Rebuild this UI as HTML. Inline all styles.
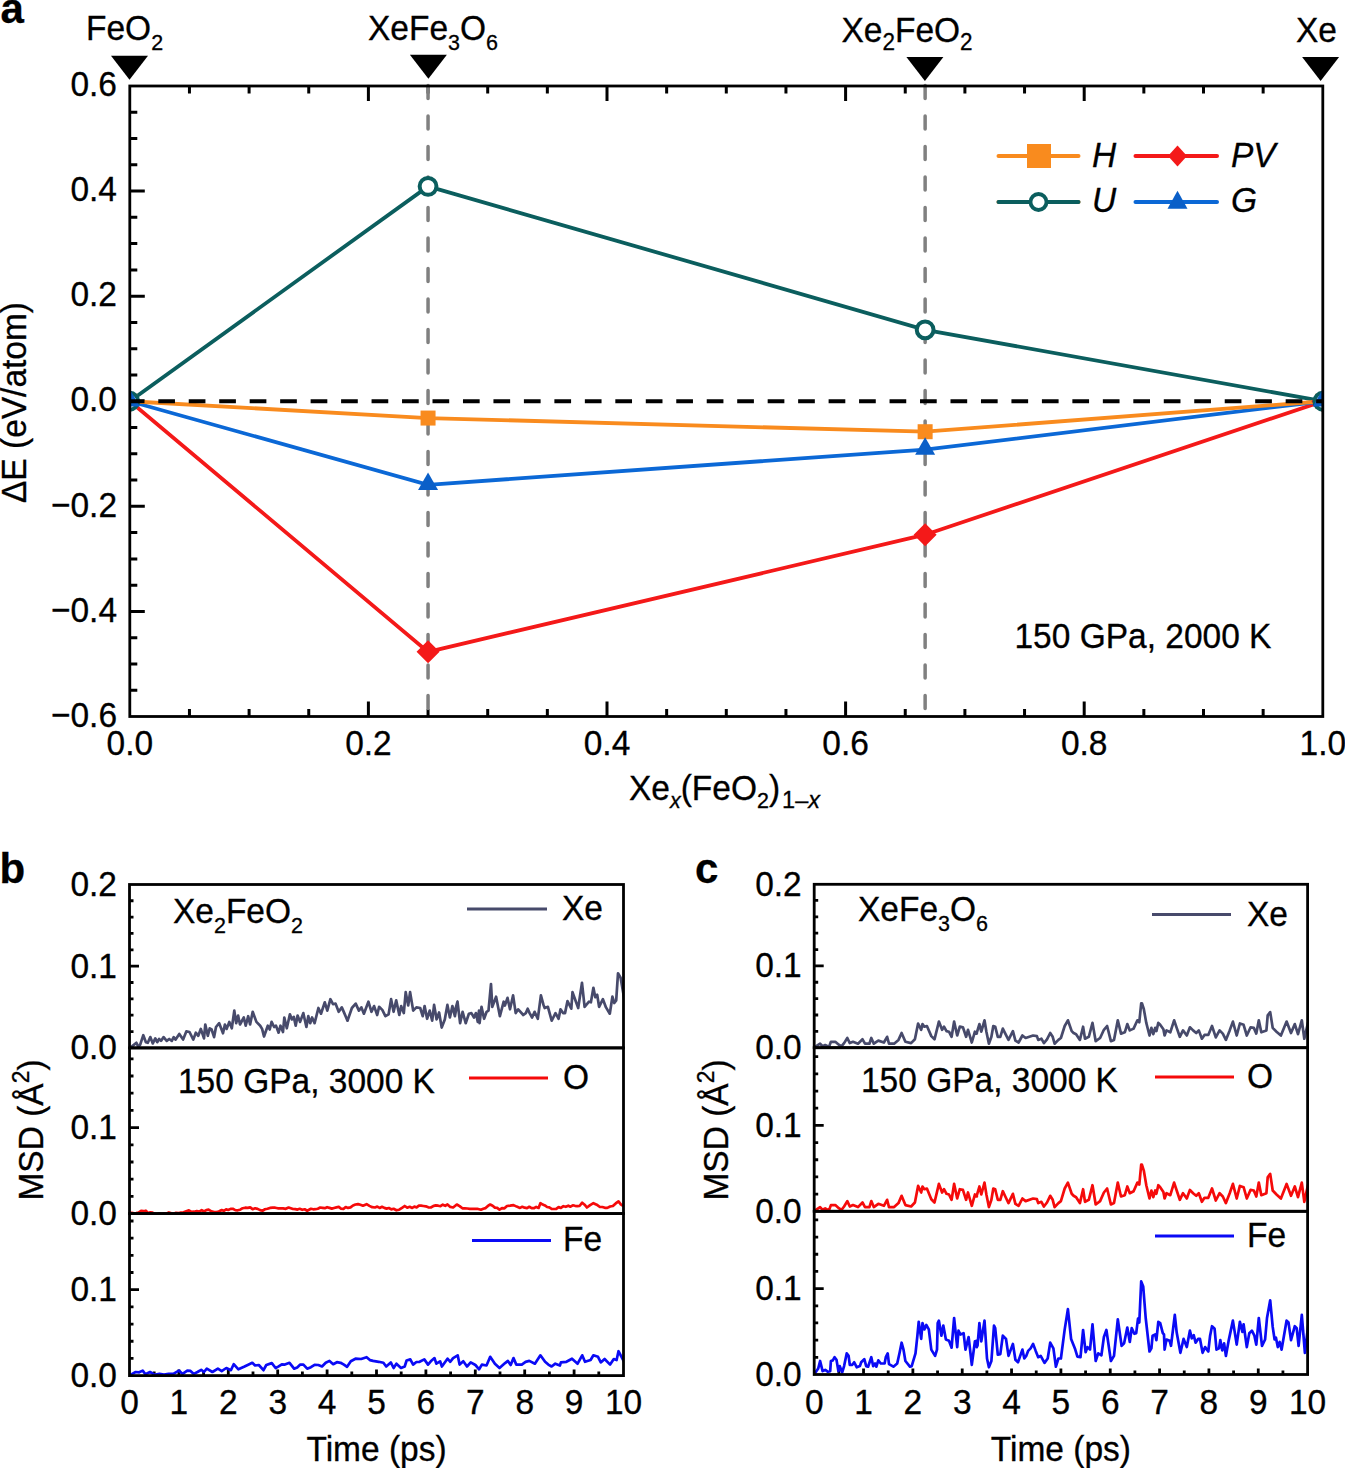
<!DOCTYPE html><html><head><meta charset="utf-8"><style>html,body{margin:0;padding:0;background:#fff;}svg{display:block}text{font-family:"Liberation Sans", sans-serif;fill:#000;stroke:#000;stroke-width:0.3px}</style></head><body>
<svg width="1345" height="1468" viewBox="0 0 1345 1468">
<rect width="1345" height="1468" fill="#fff"/>
<text transform="translate(0.50,23.00) scale(1.0,1.0)" font-size="42" font-weight="bold">a</text>
<path d="M129.8,690.23h7.5 M129.8,663.96h7.5 M129.8,637.69h7.5 M129.8,611.42h15 M129.8,585.15h7.5 M129.8,558.88h7.5 M129.8,532.60h7.5 M129.8,506.33h15 M129.8,480.06h7.5 M129.8,453.79h7.5 M129.8,427.52h7.5 M129.8,401.25h15 M129.8,374.98h7.5 M129.8,348.71h7.5 M129.8,322.44h7.5 M129.8,296.17h15 M129.8,269.90h7.5 M129.8,243.62h7.5 M129.8,217.35h7.5 M129.8,191.08h15 M129.8,164.81h7.5 M129.8,138.54h7.5 M129.8,112.27h7.5 M189.45,716.5v-7.5 M189.45,86.0v7.5 M249.10,716.5v-7.5 M249.10,86.0v7.5 M308.75,716.5v-7.5 M308.75,86.0v7.5 M368.40,716.5v-15 M368.40,86.0v15 M428.05,716.5v-7.5 M428.05,86.0v7.5 M487.70,716.5v-7.5 M487.70,86.0v7.5 M547.35,716.5v-7.5 M547.35,86.0v7.5 M607.00,716.5v-15 M607.00,86.0v15 M666.65,716.5v-7.5 M666.65,86.0v7.5 M726.30,716.5v-7.5 M726.30,86.0v7.5 M785.95,716.5v-7.5 M785.95,86.0v7.5 M845.60,716.5v-15 M845.60,86.0v15 M905.25,716.5v-7.5 M905.25,86.0v7.5 M964.90,716.5v-7.5 M964.90,86.0v7.5 M1024.55,716.5v-7.5 M1024.55,86.0v7.5 M1084.20,716.5v-15 M1084.20,86.0v15 M1143.85,716.5v-7.5 M1143.85,86.0v7.5 M1203.50,716.5v-7.5 M1203.50,86.0v7.5 M1263.15,716.5v-7.5 M1263.15,86.0v7.5" stroke="#000" stroke-width="3" fill="none"/>
<clipPath id="ca"><rect x="129.8" y="86.0" width="1193.0" height="630.5"/></clipPath>
<line x1="428.05" y1="85.6" x2="428.05" y2="709" stroke="#808080" stroke-width="3.5" stroke-dasharray="13 17.5" stroke-linecap="round"/>
<line x1="925.13" y1="85.6" x2="925.13" y2="709" stroke="#808080" stroke-width="3.5" stroke-dasharray="13 17.5" stroke-linecap="round"/>
<g clip-path="url(#ca)">
<polyline points="129.80,401.25 428.05,186.35 925.13,329.79 1322.80,401.25" fill="none" stroke="#0b5e5e" stroke-width="3.8"/>
<polyline points="129.80,401.25 428.05,651.87 925.13,534.71 1322.80,401.25" fill="none" stroke="#f41919" stroke-width="3.8"/>
<polyline points="129.80,401.25 428.05,484.79 925.13,449.59 1322.80,401.25" fill="none" stroke="#0b68d6" stroke-width="3.8"/>
<polyline points="129.80,401.25 428.05,418.06 925.13,431.72 1322.80,401.25" fill="none" stroke="#f98b1e" stroke-width="3.8"/>
<path d="M129.80,389.75L141.30,401.25L129.80,412.75L118.30,401.25Z" fill="#f41919"/>
<path d="M428.05,640.37L439.55,651.87L428.05,663.37L416.55,651.87Z" fill="#f41919"/>
<path d="M925.13,523.21L936.63,534.71L925.13,546.21L913.63,534.71Z" fill="#f41919"/>
<path d="M1322.80,389.75L1334.30,401.25L1322.80,412.75L1311.30,401.25Z" fill="#f41919"/>
<rect x="122.30" y="393.75" width="15" height="15" fill="#f98b1e"/>
<rect x="420.55" y="410.56" width="15" height="15" fill="#f98b1e"/>
<rect x="917.63" y="424.22" width="15" height="15" fill="#f98b1e"/>
<rect x="1315.30" y="393.75" width="15" height="15" fill="#f98b1e"/>
<circle cx="129.80" cy="401.25" r="8.4" fill="#fff" stroke="#0b5e5e" stroke-width="4"/>
<circle cx="428.05" cy="186.35" r="8.4" fill="#fff" stroke="#0b5e5e" stroke-width="4"/>
<circle cx="925.13" cy="329.79" r="8.4" fill="#fff" stroke="#0b5e5e" stroke-width="4"/>
<circle cx="1322.80" cy="401.25" r="8.4" fill="#fff" stroke="#0b5e5e" stroke-width="4"/>
<path d="M129.80,389.00L139.80,406.50L119.80,406.50Z" fill="#0a5fc8"/>
<path d="M428.05,472.54L438.05,490.04L418.05,490.04Z" fill="#0a5fc8"/>
<path d="M925.13,437.34L935.13,454.84L915.13,454.84Z" fill="#0a5fc8"/>
<path d="M1322.80,389.00L1332.80,406.50L1312.80,406.50Z" fill="#0a5fc8"/>
<line x1="127.8" y1="401.25" x2="1330" y2="401.25" stroke="#000" stroke-width="4" stroke-dasharray="16.7 13.77" />
</g>
<rect x="129.8" y="86.0" width="1193.0" height="630.5" fill="none" stroke="#000" stroke-width="2.8"/>
<path d="M111.00,55.7L148.00,55.7L129.50,79.7Z" fill="#000"/>
<path d="M409.90,54.8L446.90,54.8L428.40,78.8Z" fill="#000"/>
<path d="M906.40,57.0L943.40,57.0L924.90,81.0Z" fill="#000"/>
<path d="M1302.10,57.1L1339.10,57.1L1320.60,81.1Z" fill="#000"/>
<text transform="translate(86.00,39.50) scale(1.0,1.055)" font-size="33.5" >FeO<tspan font-size="21.5" dy="10" >2</tspan></text>
<text transform="translate(368.00,39.50) scale(1.0,1.055)" font-size="33.5" >XeFe<tspan font-size="21.5" dy="10" >3</tspan><tspan dy="-10">O</tspan><tspan font-size="21.5" dy="10" >6</tspan></text>
<text transform="translate(841.50,42.00) scale(1.0,1.055)" font-size="33.5" >Xe<tspan font-size="22.5" dy="8" >2</tspan><tspan dy="-8">FeO</tspan><tspan font-size="22.5" dy="8" >2</tspan></text>
<text transform="translate(1296.00,42.00) scale(1.0,1.055)" font-size="33.5" >Xe</text>
<text transform="translate(117.00,96.20) scale(1.0,1.055)" font-size="33.5" text-anchor="end" >0.6</text>
<text transform="translate(117.00,201.28) scale(1.0,1.055)" font-size="33.5" text-anchor="end" >0.4</text>
<text transform="translate(117.00,306.37) scale(1.0,1.055)" font-size="33.5" text-anchor="end" >0.2</text>
<text transform="translate(117.00,411.45) scale(1.0,1.055)" font-size="33.5" text-anchor="end" >0.0</text>
<text transform="translate(117.00,516.53) scale(1.0,1.055)" font-size="33.5" text-anchor="end" >−0.2</text>
<text transform="translate(117.00,621.62) scale(1.0,1.055)" font-size="33.5" text-anchor="end" >−0.4</text>
<text transform="translate(117.00,726.70) scale(1.0,1.055)" font-size="33.5" text-anchor="end" >−0.6</text>
<text transform="translate(129.80,754.50) scale(1.0,1.055)" font-size="33.5" text-anchor="middle" >0.0</text>
<text transform="translate(368.40,754.50) scale(1.0,1.055)" font-size="33.5" text-anchor="middle" >0.2</text>
<text transform="translate(607.00,754.50) scale(1.0,1.055)" font-size="33.5" text-anchor="middle" >0.4</text>
<text transform="translate(845.60,754.50) scale(1.0,1.055)" font-size="33.5" text-anchor="middle" >0.6</text>
<text transform="translate(1084.20,754.50) scale(1.0,1.055)" font-size="33.5" text-anchor="middle" >0.8</text>
<text transform="translate(1322.80,754.50) scale(1.0,1.055)" font-size="33.5" text-anchor="middle" >1.0</text>
<text transform="translate(629.00,800.00) scale(1.0,1.055)" font-size="33.5" >Xe<tspan font-size="21.5" dy="8" font-style="italic">x</tspan><tspan dy="-8">(FeO</tspan><tspan font-size="21.5" dy="8" >2</tspan><tspan dy="-8">)</tspan><tspan font-size="23.5" dy="8" dx="2">1–<tspan font-style="italic">x</tspan></tspan></text>
<text transform="translate(26.00,402.50) rotate(-90) scale(1.0,1.055)" font-size="33.5" text-anchor="middle" >ΔE (eV/atom)</text>
<text transform="translate(1014.50,648.00) scale(1.0,1.055)" font-size="33.5" >150 GPa, 2000 K</text>
<path d="M998.5,156H1078.5M998.5,202H1078.5" stroke="#f98b1e" stroke-width="4" stroke-linecap="round"/>
<path d="M998.5,202H1078.5" stroke="#0b5e5e" stroke-width="4" stroke-linecap="round"/>
<path d="M1135.5,156H1217" stroke="#f41919" stroke-width="4" stroke-linecap="round"/>
<path d="M1135.5,202H1217" stroke="#0b68d6" stroke-width="4" stroke-linecap="round"/>
<rect x="1027.00" y="144.00" width="24" height="24" fill="#f98b1e"/>
<circle cx="1038.50" cy="202.00" r="8" fill="#fff" stroke="#0b5e5e" stroke-width="3.8"/>
<path d="M1177.50,145.40L1187.00,156.00L1177.50,166.60L1168.00,156.00Z" fill="#f41919"/>
<path d="M1177.50,190.84L1187.50,208.84L1167.50,208.84Z" fill="#0a5fc8"/>
<text transform="translate(1092.00,167.00) scale(1.0,1.055)" font-size="33.5" font-style="italic">H</text>
<text transform="translate(1092.00,212.00) scale(1.0,1.055)" font-size="33.5" font-style="italic">U</text>
<text transform="translate(1231.00,167.00) scale(1.0,1.055)" font-size="33.5" font-style="italic">PV</text>
<text transform="translate(1231.00,212.00) scale(1.0,1.055)" font-size="33.5" font-style="italic">G</text>
<text transform="translate(-0.50,882.50) scale(1.0,1.0)" font-size="42" font-weight="bold">b</text>
<text transform="translate(117.00,1059.40) scale(1.0,1.055)" font-size="33.5" text-anchor="end" >0.0</text>
<text transform="translate(117.00,977.65) scale(1.0,1.055)" font-size="33.5" text-anchor="end" >0.1</text>
<text transform="translate(117.00,895.90) scale(1.0,1.055)" font-size="33.5" text-anchor="end" >0.2</text>
<text transform="translate(117.00,1225.10) scale(1.0,1.055)" font-size="33.5" text-anchor="end" >0.0</text>
<text transform="translate(117.00,1139.10) scale(1.0,1.055)" font-size="33.5" text-anchor="end" >0.1</text>
<text transform="translate(117.00,1387.10) scale(1.0,1.055)" font-size="33.5" text-anchor="end" >0.0</text>
<text transform="translate(117.00,1301.20) scale(1.0,1.055)" font-size="33.5" text-anchor="end" >0.1</text>
<path d="M129.5,1031.55h4 M129.5,1015.20h4 M129.5,998.85h4 M129.5,982.50h4 M129.5,966.15h9.5 M129.5,949.80h4 M129.5,933.45h4 M129.5,917.10h4 M129.5,900.75h4 M129.5,1196.40h4 M129.5,1179.20h4 M129.5,1162.00h4 M129.5,1144.80h4 M129.5,1127.60h9.5 M129.5,1110.40h4 M129.5,1093.20h4 M129.5,1076.00h4 M129.5,1058.80h4 M129.5,1358.42h4 M129.5,1341.24h4 M129.5,1324.06h4 M129.5,1306.88h4 M129.5,1289.70h9.5 M129.5,1272.52h4 M129.5,1255.34h4 M129.5,1238.16h4 M129.5,1220.98h4 M154.20,1375.6v-4 M178.90,1375.6v-6 M203.60,1375.6v-4 M228.30,1375.6v-6 M253.00,1375.6v-4 M277.70,1375.6v-6 M302.40,1375.6v-4 M327.10,1375.6v-6 M351.80,1375.6v-4 M376.50,1375.6v-6 M401.20,1375.6v-4 M425.90,1375.6v-6 M450.60,1375.6v-4 M475.30,1375.6v-6 M500.00,1375.6v-4 M524.70,1375.6v-6 M549.40,1375.6v-4 M574.10,1375.6v-6 M598.80,1375.6v-4" stroke="#000" stroke-width="2.8" fill="none"/>
<text transform="translate(129.50,1414.00) scale(1.0,1.055)" font-size="33.5" text-anchor="middle" >0</text>
<text transform="translate(178.90,1414.00) scale(1.0,1.055)" font-size="33.5" text-anchor="middle" >1</text>
<text transform="translate(228.30,1414.00) scale(1.0,1.055)" font-size="33.5" text-anchor="middle" >2</text>
<text transform="translate(277.70,1414.00) scale(1.0,1.055)" font-size="33.5" text-anchor="middle" >3</text>
<text transform="translate(327.10,1414.00) scale(1.0,1.055)" font-size="33.5" text-anchor="middle" >4</text>
<text transform="translate(376.50,1414.00) scale(1.0,1.055)" font-size="33.5" text-anchor="middle" >5</text>
<text transform="translate(425.90,1414.00) scale(1.0,1.055)" font-size="33.5" text-anchor="middle" >6</text>
<text transform="translate(475.30,1414.00) scale(1.0,1.055)" font-size="33.5" text-anchor="middle" >7</text>
<text transform="translate(524.70,1414.00) scale(1.0,1.055)" font-size="33.5" text-anchor="middle" >8</text>
<text transform="translate(574.10,1414.00) scale(1.0,1.055)" font-size="33.5" text-anchor="middle" >9</text>
<text transform="translate(623.50,1414.00) scale(1.0,1.055)" font-size="33.5" text-anchor="middle" >10</text>
<text transform="translate(376.50,1460.50) scale(1.0,1.055)" font-size="33.5" text-anchor="middle" >Time (ps)</text>
<text transform="translate(43.00,1130.00) rotate(-90) scale(1.0,1.055)" font-size="33.5" text-anchor="middle" >MSD (Å<tspan font-size="23" dy="-13" >2</tspan><tspan dy="13">)</tspan></text>
<clipPath id="cb0"><rect x="129.5" y="844.5" width="494.0" height="203.4000000000001"/></clipPath>
<polyline clip-path="url(#cb0)" points="129.4,1048.5 132.6,1045.9 136.4,1042.8 138.3,1046.6 140.2,1044.7 143.3,1035.2 145.9,1042.2 147.8,1042.8 150.3,1037.1 152.8,1043.4 155.3,1038.4 157.2,1042.2 159.1,1039.0 161.0,1040.9 163.6,1037.1 166.7,1040.9 169.2,1039.0 171.8,1040.9 173.7,1037.1 175.6,1039.6 179.3,1033.9 183.1,1039.6 186.3,1031.4 189.5,1032.0 193.3,1039.6 195.8,1032.7 198.3,1035.8 200.8,1028.9 204.0,1038.4 205.3,1024.5 207.8,1035.8 209.7,1028.3 211.6,1029.5 214.1,1037.1 216.0,1027.0 219.2,1023.2 223.0,1033.3 224.9,1024.5 226.7,1028.9 229.3,1021.9 231.8,1028.3 234.3,1010.6 236.2,1023.2 238.1,1015.6 240.0,1024.5 243.8,1017.5 245.7,1025.7 248.2,1016.2 250.1,1024.5 252.7,1011.8 256.4,1021.9 260.2,1025.7 262.1,1028.9 264.0,1036.5 267.8,1025.7 269.7,1029.5 271.6,1021.9 274.1,1027.0 276.0,1025.7 278.6,1032.7 280.5,1025.7 283.0,1032.0 284.3,1017.5 286.8,1028.3 289.9,1014.3 291.9,1019.4 293.8,1016.9 295.7,1025.7 297.6,1015.6 300.1,1021.9 303.3,1013.1 306.4,1027.0 308.3,1016.2 310.2,1023.2 312.1,1017.5 314.6,1023.2 318.4,1008.0 321.0,1013.7 324.8,1002.3 327.3,1010.6 330.4,999.2 333.0,1004.2 335.5,1003.6 338.7,1011.8 341.8,1007.4 344.3,1013.1 347.5,1020.7 351.9,1008.0 355.7,1003.6 358.9,1010.6 361.4,1007.4 363.9,1013.7 368.4,1001.7 371.5,1011.8 374.1,1006.1 377.2,1015.0 379.1,1006.8 382.3,1009.9 385.4,1016.2 388.6,1014.3 391.1,999.2 393.6,1011.8 396.2,1000.4 399.3,1015.0 401.2,1006.1 403.8,1013.1 405.7,992.2 408.2,1005.5 410.1,992.2 413.2,1010.6 416.4,1007.4 420.2,1008.0 422.7,1016.2 424.6,1006.1 427.1,1018.8 429.7,1010.6 432.2,1020.7 434.1,1004.9 436.6,1019.4 439.1,1012.5 441.7,1027.6 444.8,1019.4 447.4,1004.9 449.9,1017.5 452.4,1006.1 454.9,1016.2 457.5,1001.7 455.0,1010.6 457.5,1001.7 460.1,1023.2 462.6,1011.8 465.7,1023.2 468.9,1013.7 471.4,1013.1 474.0,1017.5 475.9,1013.1 477.8,1021.9 479.0,1010.6 479.6,1023.2 481.5,1006.8 484.1,1018.8 486.6,1011.8 488.5,1010.6 491.0,984.0 492.3,1006.8 496.1,996.7 499.9,1016.2 503.7,1001.7 504.9,1005.5 507.5,997.9 510.0,1009.3 513.1,995.4 515.7,1013.1 518.2,1009.3 523.3,1015.0 525.8,1013.1 527.7,1008.7 529.6,1013.1 532.1,1017.5 534.6,1011.8 537.8,1018.8 540.9,995.4 543.5,1004.9 544.7,1008.0 547.9,1006.8 551.7,1020.7 555.5,1013.1 558.6,1018.8 560.5,1009.3 563.1,1013.1 565.0,1013.1 567.5,1001.1 571.3,1008.7 572.5,992.2 578.2,1008.0 582.0,982.8 584.6,1006.8 589.0,1001.7 590.9,1002.3 593.4,987.8 595.3,997.3 597.2,994.8 599.1,1006.8 602.9,999.2 606.0,1007.4 609.8,1013.7 612.4,996.7 614.3,1003.0 616.2,1000.4 618.0,973.3 620.6,977.7 624.4,999.8" fill="none" stroke="#474a6b" stroke-width="2.7" stroke-linejoin="round"/>
<clipPath id="cb1"><rect x="129.5" y="1007.9000000000001" width="494.0" height="205.69999999999982"/></clipPath>
<polyline clip-path="url(#cb1)" points="125.0,1213.5 127.2,1212.8 129.5,1213.4 131.7,1212.9 133.9,1213.4 136.2,1213.1 138.6,1212.7 141.1,1210.9 143.6,1211.2 145.8,1210.7 148.0,1213.0 150.3,1212.3 152.5,1212.7 154.7,1213.8 157.1,1214.8 159.5,1213.5 161.8,1214.2 164.2,1213.3 166.6,1213.5 168.9,1212.4 171.3,1213.3 173.7,1213.7 176.0,1212.8 178.4,1213.2 180.8,1212.5 183.6,1212.3 186.3,1211.2 188.9,1210.3 191.5,1211.9 194.1,1211.7 196.7,1211.1 199.3,1211.6 201.7,1210.1 204.0,1211.5 206.3,1210.1 208.6,1209.7 211.4,1211.3 214.2,1212.0 216.7,1212.2 219.2,1211.2 221.7,1210.1 223.9,1210.8 226.1,1209.4 228.3,1210.0 230.6,1208.9 232.8,1208.8 235.3,1210.1 237.8,1210.3 240.2,1209.7 242.7,1208.2 245.2,1207.7 247.7,1207.9 250.2,1207.4 252.6,1209.2 255.1,1208.3 257.6,1208.9 260.1,1210.1 262.5,1210.7 265.0,1209.3 267.5,1208.8 270.0,1207.9 272.6,1207.7 275.2,1207.7 277.8,1208.3 280.4,1208.4 283.0,1208.3 285.8,1208.8 288.6,1207.5 290.8,1208.2 293.0,1209.0 295.3,1209.1 297.5,1209.6 299.7,1208.8 302.2,1209.8 304.7,1209.3 307.2,1210.7 310.9,1208.8 313.2,1209.3 315.5,1209.2 317.8,1208.7 320.2,1207.5 322.5,1207.8 324.8,1208.2 327.1,1207.2 329.5,1207.9 331.8,1208.6 334.1,1208.0 336.4,1207.4 338.8,1206.9 341.1,1208.7 343.4,1209.0 345.7,1207.0 348.0,1207.9 350.5,1207.4 353.0,1205.5 355.5,1204.5 358.0,1204.1 360.4,1204.8 362.9,1205.7 366.6,1204.2 369.4,1205.9 372.2,1207.2 375.0,1207.5 377.3,1206.6 379.6,1207.9 382.0,1206.8 384.3,1207.9 386.6,1208.6 388.9,1208.0 391.3,1209.4 393.6,1208.8 396.4,1210.3 399.2,1209.7 402.0,1207.9 404.7,1206.0 407.2,1207.7 409.7,1206.8 412.2,1207.9 414.4,1206.6 416.6,1207.4 418.9,1205.7 421.1,1205.7 423.3,1206.0 425.8,1206.3 428.3,1207.3 430.8,1207.5 433.2,1206.1 435.7,1205.3 438.2,1205.7 440.5,1206.2 442.8,1204.7 445.2,1205.8 447.5,1204.5 450.3,1206.9 453.1,1207.5 456.8,1204.5 459.6,1206.1 462.4,1208.3 464.8,1208.3 467.3,1208.5 469.8,1208.8 472.3,1208.8 474.8,1208.8 477.2,1208.8 480.9,1209.7 483.3,1208.7 485.6,1208.1 487.9,1205.9 490.2,1204.5 492.6,1205.7 494.9,1207.6 497.2,1207.9 499.5,1209.7 502.0,1208.1 504.5,1208.3 507.0,1206.0 510.2,1205.6 513.5,1205.1 516.7,1206.6 520.0,1207.9 522.3,1206.8 524.6,1207.7 527.0,1208.1 529.3,1206.8 531.6,1208.1 533.9,1208.2 536.2,1206.9 538.6,1207.9 540.4,1203.2 542.7,1204.6 544.9,1205.4 547.1,1207.0 549.3,1207.4 551.6,1208.8 553.9,1209.0 556.2,1208.9 558.6,1207.1 560.9,1207.9 563.4,1206.2 565.8,1206.8 568.3,1205.7 570.5,1206.7 572.8,1205.3 575.0,1205.8 577.2,1206.2 579.5,1206.0 582.2,1202.7 584.6,1204.7 586.9,1207.5 590.1,1205.1 593.4,1203.2 596.7,1204.7 599.9,1207.0 602.4,1207.0 604.9,1207.8 607.3,1207.9 610.1,1206.5 612.9,1206.0 615.7,1203.4 618.5,1201.4 620.8,1204.3 623.1,1206.0" fill="none" stroke="#f50a0a" stroke-width="2.7" stroke-linejoin="round"/>
<clipPath id="cb2"><rect x="129.5" y="1173.6" width="494.0" height="202.0"/></clipPath>
<polyline clip-path="url(#cb2)" points="128.7,1375.8 132.2,1373.9 135.7,1372.0 139.2,1372.3 142.7,1370.6 145.4,1374.3 150.1,1372.0 154.7,1374.8 159.4,1373.9 164.0,1374.6 168.7,1373.9 173.3,1373.9 178.9,1370.6 182.6,1373.9 187.3,1370.6 190.5,1370.9 193.8,1373.9 197.5,1372.0 201.2,1369.8 204.0,1372.0 206.8,1368.7 212.4,1372.0 217.9,1368.7 221.7,1371.1 226.3,1368.0 230.9,1370.2 233.7,1364.2 238.4,1369.3 244.0,1366.8 247.7,1365.0 252.3,1362.8 255.1,1365.5 258.8,1365.0 263.5,1370.2 266.3,1365.0 271.8,1363.1 275.6,1368.0 278.7,1366.4 281.8,1364.3 284.9,1364.6 289.5,1362.8 294.1,1368.7 297.2,1367.4 300.3,1364.5 303.4,1364.6 307.2,1368.7 310.9,1367.2 314.6,1364.8 318.3,1365.0 322.0,1366.5 325.7,1362.8 329.5,1360.9 333.2,1364.2 336.9,1362.2 340.6,1362.8 343.9,1364.6 347.1,1366.8 350.8,1361.3 355.5,1358.7 361.1,1359.0 366.6,1357.2 369.9,1360.1 373.1,1360.9 378.7,1361.8 383.4,1362.8 386.2,1366.5 390.8,1362.4 393.6,1368.0 396.4,1363.7 401.0,1368.0 404.7,1366.5 406.6,1360.5 410.3,1359.4 413.1,1364.6 416.4,1362.0 419.6,1361.8 424.3,1359.4 428.0,1364.6 430.8,1361.3 434.5,1358.1 436.3,1363.7 440.1,1361.3 441.9,1366.5 447.5,1358.7 450.3,1361.8 453.1,1358.1 457.7,1355.3 459.6,1364.6 463.3,1361.3 467.0,1366.5 470.7,1362.4 475.4,1365.0 479.1,1369.3 481.9,1364.6 486.5,1365.5 490.2,1356.8 494.9,1363.7 499.5,1368.0 505.1,1363.1 507.9,1360.9 510.7,1365.0 513.5,1358.1 516.3,1364.6 521.8,1364.6 525.6,1361.9 529.3,1360.9 534.9,1363.7 540.4,1355.3 545.1,1361.8 548.3,1364.6 551.6,1366.5 555.3,1363.7 559.9,1365.5 560.9,1362.4 566.4,1361.8 572.0,1358.7 577.6,1363.7 582.2,1355.3 585.0,1361.8 590.6,1360.0 593.4,1355.3 598.0,1356.8 600.8,1362.4 604.6,1359.0 610.1,1364.6 613.8,1359.0 616.6,1360.0 618.5,1351.2 624.1,1361.8" fill="none" stroke="#0a0af5" stroke-width="2.7" stroke-linejoin="round"/>
<rect x="129.5" y="884.5" width="494.0" height="163.4000000000001" fill="none" stroke="#000" stroke-width="2.8"/>
<rect x="129.5" y="1047.9" width="494.0" height="165.69999999999982" fill="none" stroke="#000" stroke-width="2.8"/>
<rect x="129.5" y="1213.6" width="494.0" height="162.0" fill="none" stroke="#000" stroke-width="2.8"/>
<text transform="translate(695.00,882.50) scale(1.0,1.0)" font-size="42" font-weight="bold">c</text>
<text transform="translate(801.70,1059.20) scale(1.0,1.055)" font-size="33.5" text-anchor="end" >0.0</text>
<text transform="translate(801.70,977.40) scale(1.0,1.055)" font-size="33.5" text-anchor="end" >0.1</text>
<text transform="translate(801.70,895.60) scale(1.0,1.055)" font-size="33.5" text-anchor="end" >0.2</text>
<text transform="translate(801.70,1222.80) scale(1.0,1.055)" font-size="33.5" text-anchor="end" >0.0</text>
<text transform="translate(801.70,1136.90) scale(1.0,1.055)" font-size="33.5" text-anchor="end" >0.1</text>
<text transform="translate(801.70,1386.00) scale(1.0,1.055)" font-size="33.5" text-anchor="end" >0.0</text>
<text transform="translate(801.70,1300.10) scale(1.0,1.055)" font-size="33.5" text-anchor="end" >0.1</text>
<path d="M814.2,1031.34h4 M814.2,1014.98h4 M814.2,998.62h4 M814.2,982.26h4 M814.2,965.90h9.5 M814.2,949.54h4 M814.2,933.18h4 M814.2,916.82h4 M814.2,900.46h4 M814.2,1194.12h4 M814.2,1176.94h4 M814.2,1159.76h4 M814.2,1142.58h4 M814.2,1125.40h9.5 M814.2,1108.22h4 M814.2,1091.04h4 M814.2,1073.86h4 M814.2,1056.68h4 M814.2,1357.32h4 M814.2,1340.14h4 M814.2,1322.96h4 M814.2,1305.78h4 M814.2,1288.60h9.5 M814.2,1271.42h4 M814.2,1254.24h4 M814.2,1237.06h4 M814.2,1219.88h4 M838.87,1374.5v-4 M863.54,1374.5v-6 M888.21,1374.5v-4 M912.88,1374.5v-6 M937.55,1374.5v-4 M962.22,1374.5v-6 M986.89,1374.5v-4 M1011.56,1374.5v-6 M1036.23,1374.5v-4 M1060.90,1374.5v-6 M1085.57,1374.5v-4 M1110.24,1374.5v-6 M1134.91,1374.5v-4 M1159.58,1374.5v-6 M1184.25,1374.5v-4 M1208.92,1374.5v-6 M1233.59,1374.5v-4 M1258.26,1374.5v-6 M1282.93,1374.5v-4" stroke="#000" stroke-width="2.8" fill="none"/>
<text transform="translate(814.20,1414.00) scale(1.0,1.055)" font-size="33.5" text-anchor="middle" >0</text>
<text transform="translate(863.54,1414.00) scale(1.0,1.055)" font-size="33.5" text-anchor="middle" >1</text>
<text transform="translate(912.88,1414.00) scale(1.0,1.055)" font-size="33.5" text-anchor="middle" >2</text>
<text transform="translate(962.22,1414.00) scale(1.0,1.055)" font-size="33.5" text-anchor="middle" >3</text>
<text transform="translate(1011.56,1414.00) scale(1.0,1.055)" font-size="33.5" text-anchor="middle" >4</text>
<text transform="translate(1060.90,1414.00) scale(1.0,1.055)" font-size="33.5" text-anchor="middle" >5</text>
<text transform="translate(1110.24,1414.00) scale(1.0,1.055)" font-size="33.5" text-anchor="middle" >6</text>
<text transform="translate(1159.58,1414.00) scale(1.0,1.055)" font-size="33.5" text-anchor="middle" >7</text>
<text transform="translate(1208.92,1414.00) scale(1.0,1.055)" font-size="33.5" text-anchor="middle" >8</text>
<text transform="translate(1258.26,1414.00) scale(1.0,1.055)" font-size="33.5" text-anchor="middle" >9</text>
<text transform="translate(1307.60,1414.00) scale(1.0,1.055)" font-size="33.5" text-anchor="middle" >10</text>
<text transform="translate(1060.90,1460.50) scale(1.0,1.055)" font-size="33.5" text-anchor="middle" >Time (ps)</text>
<text transform="translate(728.00,1130.00) rotate(-90) scale(1.0,1.055)" font-size="33.5" text-anchor="middle" >MSD (Å<tspan font-size="23" dy="-13" >2</tspan><tspan dy="13">)</tspan></text>
<clipPath id="cc0"><rect x="814.2" y="844.3" width="493.39999999999986" height="203.4000000000001"/></clipPath>
<polyline clip-path="url(#cc0)" points="814.4,1047.5 817.0,1045.6 820.1,1043.7 822.6,1046.2 825.2,1045.0 829.0,1046.9 830.9,1041.8 835.3,1041.8 839.1,1045.0 841.6,1046.2 844.1,1043.1 847.3,1038.0 849.8,1043.1 853.0,1041.8 858.0,1043.7 862.5,1039.3 865.0,1043.7 869.4,1043.7 871.3,1038.0 873.8,1043.7 878.3,1040.6 883.9,1042.5 887.1,1036.8 889.0,1043.7 894.1,1043.7 898.5,1039.9 901.6,1033.0 905.4,1041.8 911.1,1043.1 914.9,1039.3 918.1,1023.5 921.2,1029.8 922.5,1024.1 924.4,1026.7 926.9,1026.0 931.3,1036.1 934.5,1039.3 938.9,1021.6 942.1,1029.8 944.0,1026.7 946.5,1031.1 949.0,1031.7 951.6,1036.8 954.1,1021.6 957.2,1035.5 959.8,1026.7 962.9,1027.3 966.1,1036.8 968.0,1029.8 971.8,1042.5 974.9,1031.7 976.8,1033.6 975.0,1033.6 976.9,1032.3 979.4,1024.1 981.3,1031.7 984.5,1020.3 986.4,1031.7 988.9,1043.7 991.4,1036.8 993.3,1026.0 995.2,1026.7 997.8,1036.8 1000.3,1036.8 1002.8,1028.6 1005.3,1033.6 1008.5,1039.9 1012.9,1031.1 1015.4,1040.6 1018.6,1042.5 1022.4,1035.5 1025.6,1038.0 1033.1,1035.5 1036.9,1036.1 1038.2,1039.9 1041.4,1038.7 1043.9,1043.1 1047.0,1039.3 1050.2,1033.0 1052.7,1036.8 1054.6,1043.7 1058.4,1039.9 1060.9,1038.0 1064.7,1026.0 1067.9,1020.3 1071.7,1031.1 1073.6,1033.0 1076.1,1034.2 1079.9,1039.9 1083.1,1026.7 1085.0,1038.7 1088.8,1036.8 1092.5,1022.9 1095.7,1041.2 1100.1,1038.0 1103.9,1029.8 1107.1,1026.0 1110.9,1041.2 1114.0,1039.9 1117.8,1020.3 1121.0,1033.6 1124.8,1032.3 1127.3,1024.1 1129.8,1030.4 1133.6,1028.6 1137.4,1020.3 1139.3,1022.2 1141.2,1003.3 1141.9,1003.3 1143.8,1009.0 1146.3,1022.9 1149.5,1035.5 1151.4,1027.9 1153.3,1034.2 1155.2,1027.9 1156.4,1031.1 1158.3,1022.9 1160.2,1024.8 1163.4,1029.2 1164.6,1035.5 1166.5,1030.4 1170.3,1032.3 1174.1,1020.3 1176.7,1027.9 1179.8,1036.8 1183.0,1030.4 1186.8,1035.5 1189.9,1027.3 1193.1,1030.4 1196.2,1033.0 1198.8,1030.4 1201.9,1038.7 1204.5,1034.9 1208.3,1034.9 1212.0,1026.0 1215.8,1037.4 1219.6,1030.4 1222.8,1033.6 1225.9,1039.9 1229.7,1030.4 1232.9,1021.6 1236.7,1035.5 1239.9,1023.5 1243.6,1024.8 1246.8,1035.5 1250.6,1027.3 1253.8,1027.9 1256.3,1033.6 1258.8,1020.3 1261.3,1032.3 1266.4,1030.4 1267.7,1015.3 1270.2,1012.1 1272.7,1027.9 1276.5,1031.7 1280.9,1035.5 1286.6,1021.6 1291.0,1033.0 1294.8,1024.1 1298.0,1034.2 1301.8,1020.3 1304.3,1038.7 1308.1,1022.2" fill="none" stroke="#474a6b" stroke-width="2.7" stroke-linejoin="round"/>
<clipPath id="cc1"><rect x="814.2" y="1007.7" width="493.39999999999986" height="203.5999999999999"/></clipPath>
<polyline clip-path="url(#cc1)" points="814.4,1211.1 817.0,1209.1 820.1,1207.1 822.6,1209.8 825.2,1208.4 829.0,1210.4 830.9,1205.1 835.3,1205.1 839.1,1208.4 841.6,1209.8 844.1,1206.5 847.3,1201.1 849.8,1206.5 853.0,1205.1 858.0,1207.1 862.5,1202.5 865.0,1207.1 869.4,1207.1 871.3,1201.1 873.8,1207.1 878.3,1203.8 883.9,1205.8 887.1,1199.8 889.0,1207.1 894.1,1207.1 898.5,1203.1 901.6,1195.8 905.4,1205.1 911.1,1206.5 914.9,1202.5 918.1,1185.9 921.2,1192.5 922.5,1186.5 924.4,1189.2 926.9,1188.5 931.3,1199.2 934.5,1202.5 938.9,1183.9 942.1,1192.5 944.0,1189.2 946.5,1193.8 949.0,1194.5 951.6,1199.8 954.1,1183.9 957.2,1198.5 959.8,1189.2 962.9,1189.9 966.1,1199.8 968.0,1192.5 971.8,1205.8 974.9,1194.5 976.8,1196.5 975.0,1196.5 976.9,1195.2 979.4,1186.5 981.3,1194.5 984.5,1182.6 986.4,1194.5 988.9,1207.1 991.4,1199.8 993.3,1188.5 995.2,1189.2 997.8,1199.8 1000.3,1199.8 1002.8,1191.2 1005.3,1196.5 1008.5,1203.1 1012.9,1193.8 1015.4,1203.8 1018.6,1205.8 1022.4,1198.5 1025.6,1201.1 1033.1,1198.5 1036.9,1199.2 1038.2,1203.1 1041.4,1201.8 1043.9,1206.5 1047.0,1202.5 1050.2,1195.8 1052.7,1199.8 1054.6,1207.1 1058.4,1203.1 1060.9,1201.1 1064.7,1188.5 1067.9,1182.6 1071.7,1193.8 1073.6,1195.8 1076.1,1197.2 1079.9,1203.1 1083.1,1189.2 1085.0,1201.8 1088.8,1199.8 1092.5,1185.2 1095.7,1204.5 1100.1,1201.1 1103.9,1192.5 1107.1,1188.5 1110.9,1204.5 1114.0,1203.1 1117.8,1182.6 1121.0,1196.5 1124.8,1195.2 1127.3,1186.5 1129.8,1193.2 1133.6,1191.2 1137.4,1182.6 1139.3,1184.6 1141.2,1164.6 1141.9,1164.6 1143.8,1170.6 1146.3,1185.2 1149.5,1198.5 1151.4,1190.5 1153.3,1197.2 1155.2,1190.5 1156.4,1193.8 1158.3,1185.2 1160.2,1187.2 1163.4,1191.9 1164.6,1198.5 1166.5,1193.2 1170.3,1195.2 1174.1,1182.6 1176.7,1190.5 1179.8,1199.8 1183.0,1193.2 1186.8,1198.5 1189.9,1189.9 1193.1,1193.2 1196.2,1195.8 1198.8,1193.2 1201.9,1201.8 1204.5,1197.8 1208.3,1197.8 1212.0,1188.5 1215.8,1200.5 1219.6,1193.2 1222.8,1196.5 1225.9,1203.1 1229.7,1193.2 1232.9,1183.9 1236.7,1198.5 1239.9,1185.9 1243.6,1187.2 1246.8,1198.5 1250.6,1189.9 1253.8,1190.5 1256.3,1196.5 1258.8,1182.6 1261.3,1195.2 1266.4,1193.2 1267.7,1177.3 1270.2,1173.9 1272.7,1190.5 1276.5,1194.5 1280.9,1198.5 1286.6,1183.9 1291.0,1195.8 1294.8,1186.5 1298.0,1197.2 1301.8,1182.6 1304.3,1201.8 1308.1,1184.6" fill="none" stroke="#f50a0a" stroke-width="2.7" stroke-linejoin="round"/>
<clipPath id="cc2"><rect x="814.2" y="1171.3" width="493.39999999999986" height="203.20000000000005"/></clipPath>
<polyline clip-path="url(#cc2)" points="813.8,1374.9 818.2,1368.6 820.1,1361.0 822.6,1371.1 825.2,1369.9 827.7,1371.7 830.2,1371.1 830.9,1361.0 832.8,1360.4 834.6,1357.2 836.5,1359.7 838.4,1371.1 839.7,1366.1 842.2,1372.4 844.1,1366.1 846.7,1353.4 848.6,1355.9 849.8,1364.8 852.3,1364.8 854.2,1362.3 856.8,1367.3 859.9,1366.1 861.2,1362.3 864.3,1359.1 866.2,1366.1 868.1,1366.7 871.3,1357.2 873.2,1366.1 875.1,1363.5 876.4,1366.7 878.3,1360.4 880.8,1363.5 884.6,1363.5 885.8,1357.2 887.7,1353.4 889.0,1364.2 893.4,1366.7 897.2,1363.5 899.7,1352.2 901.6,1342.7 903.5,1349.6 905.4,1361.0 909.9,1366.7 911.7,1366.1 915.5,1353.4 917.4,1335.7 918.7,1321.8 921.2,1338.9 922.5,1323.1 924.4,1329.4 926.3,1325.0 928.8,1329.4 931.3,1349.6 935.1,1355.9 937.0,1349.6 937.7,1323.1 938.9,1320.6 941.4,1335.7 943.3,1325.6 945.9,1339.5 949.0,1340.8 951.6,1347.7 954.1,1318.0 957.2,1347.1 958.5,1330.7 960.4,1334.5 963.6,1333.2 965.5,1349.6 968.6,1337.0 971.8,1364.8 974.9,1341.4 976.8,1347.1 976.3,1340.8 977.5,1345.8 979.4,1323.1 981.3,1341.4 984.5,1320.6 987.0,1358.5 988.9,1367.3 991.4,1361.0 994.0,1325.6 995.2,1328.1 997.8,1354.7 1000.3,1354.1 1002.8,1335.7 1006.0,1338.9 1008.5,1355.9 1012.9,1343.9 1015.4,1359.7 1018.0,1362.3 1022.4,1349.6 1024.3,1358.5 1026.2,1355.9 1028.1,1350.9 1030.6,1348.4 1033.1,1343.9 1035.7,1350.9 1038.2,1357.2 1040.7,1355.9 1044.5,1362.9 1047.7,1358.5 1050.2,1342.7 1053.4,1348.4 1055.9,1366.7 1058.4,1358.5 1060.9,1358.5 1064.7,1329.4 1067.9,1309.2 1071.1,1338.9 1074.9,1348.4 1077.4,1356.6 1080.5,1357.2 1083.1,1330.0 1085.6,1352.2 1087.5,1347.1 1090.0,1349.6 1092.5,1324.3 1095.7,1361.0 1098.2,1353.4 1101.4,1355.3 1103.9,1337.0 1106.4,1330.0 1110.9,1361.0 1114.0,1355.9 1117.8,1319.3 1121.6,1345.8 1124.1,1343.3 1127.3,1327.5 1129.8,1342.0 1131.7,1328.1 1134.3,1333.8 1136.2,1333.2 1138.0,1318.7 1139.3,1322.5 1141.2,1281.4 1143.2,1286.4 1145.7,1318.0 1149.5,1351.5 1151.4,1348.4 1152.6,1335.7 1155.2,1334.5 1156.4,1340.1 1158.3,1321.8 1160.2,1323.1 1162.8,1333.2 1164.0,1334.5 1164.6,1349.6 1166.5,1339.5 1169.7,1340.8 1171.0,1345.8 1174.8,1314.9 1176.7,1332.6 1180.4,1352.8 1183.6,1338.9 1186.8,1347.1 1189.9,1330.7 1191.8,1338.3 1193.7,1335.1 1195.6,1342.7 1198.1,1338.9 1200.0,1338.9 1202.6,1352.8 1205.1,1347.1 1208.3,1351.5 1210.1,1335.7 1212.0,1326.2 1214.6,1328.8 1216.5,1349.6 1219.0,1348.4 1220.3,1340.1 1222.2,1350.3 1224.1,1343.3 1225.9,1355.9 1228.5,1341.4 1232.9,1320.6 1236.7,1344.6 1239.9,1321.8 1242.4,1331.9 1243.6,1324.3 1246.8,1347.1 1249.3,1333.2 1251.9,1330.7 1254.4,1335.7 1256.3,1344.6 1258.8,1318.0 1262.0,1345.8 1265.1,1339.5 1267.0,1318.0 1270.2,1300.3 1272.7,1326.9 1274.6,1339.5 1275.9,1337.6 1277.8,1347.1 1279.7,1342.0 1281.6,1349.6 1286.6,1320.6 1288.5,1322.5 1291.0,1340.1 1294.8,1326.2 1296.7,1328.1 1298.6,1345.8 1301.8,1314.9 1304.9,1352.8 1308.7,1321.2" fill="none" stroke="#0a0af5" stroke-width="2.7" stroke-linejoin="round"/>
<rect x="814.2" y="884.3" width="493.39999999999986" height="163.4000000000001" fill="none" stroke="#000" stroke-width="2.8"/>
<rect x="814.2" y="1047.7" width="493.39999999999986" height="163.5999999999999" fill="none" stroke="#000" stroke-width="2.8"/>
<rect x="814.2" y="1211.3" width="493.39999999999986" height="163.20000000000005" fill="none" stroke="#000" stroke-width="2.8"/>
<text transform="translate(173.00,922.50) scale(1.0,1.055)" font-size="33.5" >Xe<tspan font-size="21.5" dy="10" >2</tspan><tspan dy="-10">FeO</tspan><tspan font-size="21.5" dy="10" >2</tspan></text>
<text transform="translate(178.00,1092.50) scale(1.0,1.055)" font-size="33.5" >150 GPa, 3000 K</text>
<path d="M467,909H547" stroke="#474a6b" stroke-width="2.8"/>
<path d="M469,1078H548" stroke="#f50a0a" stroke-width="2.8"/>
<path d="M472,1240.5H551" stroke="#0a0af5" stroke-width="2.8"/>
<text transform="translate(562.00,920.00) scale(1.0,1.055)" font-size="33.5" >Xe</text>
<text transform="translate(563.00,1089.00) scale(1.0,1.055)" font-size="33.5" >O</text>
<text transform="translate(563.00,1251.00) scale(1.0,1.055)" font-size="33.5" >Fe</text>
<text transform="translate(858.00,920.50) scale(1.0,1.055)" font-size="33.5" >XeFe<tspan font-size="21.5" dy="10" >3</tspan><tspan dy="-10">O</tspan><tspan font-size="21.5" dy="10" >6</tspan></text>
<text transform="translate(861.00,1092.00) scale(1.0,1.055)" font-size="33.5" >150 GPa, 3000 K</text>
<path d="M1152,914.5H1231" stroke="#474a6b" stroke-width="2.8"/>
<path d="M1155,1077H1234" stroke="#f50a0a" stroke-width="2.8"/>
<path d="M1155,1236H1234" stroke="#0a0af5" stroke-width="2.8"/>
<text transform="translate(1247.00,925.50) scale(1.0,1.055)" font-size="33.5" >Xe</text>
<text transform="translate(1247.00,1088.00) scale(1.0,1.055)" font-size="33.5" >O</text>
<text transform="translate(1247.00,1247.30) scale(1.0,1.055)" font-size="33.5" >Fe</text>
</svg></body></html>
